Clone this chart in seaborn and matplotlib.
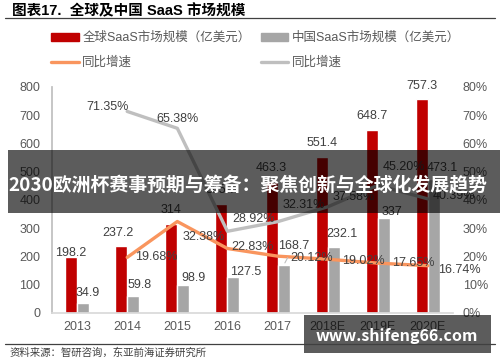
"""Global vs China SaaS market size: bars with growth-rate lines."""

import matplotlib.pyplot as plt
import matplotlib.patches as mpatches
from matplotlib.lines import Line2D
import numpy as np
import pandas as pd
import seaborn as sns

# ---- data ----
years = ['2013', '2014', '2015', '2016', '2017', '2018E', '2019E', '2020E']
global_size = [198.2, 237.2, 314.0, 385.7, 463.3, 551.4, 648.7, 757.3]
china_size = [34.9, 59.8, 98.9, 127.5, 168.7, 232.1, 337.0, 473.1]
# growth rates start in 2014
global_growth = [19.68, 32.38, 22.83, 20.12, 19.02, 17.65, 16.74]
china_growth = [71.35, 65.38, 28.92, 32.31, 37.58, 45.20, 40.39]
left_ticks = [0, 100, 200, 300, 400, 500, 600, 700, 800]
right_ticks = [0, 10, 20, 30, 40, 50, 60, 70, 80]

title = '图表17.  全球及中国 SaaS 市场规模'
legend_labels = ['全球SaaS市场规模（亿美元）', '同比增速',
                 '中国SaaS市场规模（亿美元）', '同比增速']
source = '资料来源：智研咨询，东亚前海证券研究所'
banner = '2030欧洲杯赛事预期与筹备：聚焦创新与全球化发展趋势'
watermark = 'www.shifeng66.com'

# label nudges in points (dx, dy)
global_off = [(0, 3), (-2, 9), (0, 10), (0, 10), (0, 10), (0, 10), (0, 10),
              (0, 9.5)]
china_off = [(3.5, 7), (4.5, 8), (7, 5), (9, 3.5), (7.5, 14), (6, 9.5),
             (6, 4), (6, 8)]
ggrowth_off = [(6, 0), (4, -11), (3, 1), (9, -1), (10, -1), (10, 0), (7, -3)]
cgrowth_off = [(1, 3), (0, 7), (3.5, 8.5), (3.5, 12), (3.5, 7), (3.5, 13),
               (3.5, 2)]
cgrowth_ha = ['right', 'center', 'left', 'left', 'left', 'left', 'left']

RED = '#C00000'
GREY = '#A6A6A6'
ORANGE = '#F9955E'
LGREY = '#BFBFBF'
TXT = '#404040'


def main():
    sns.set_theme(style='white')
    plt.rcParams['font.family'] = ['Liberation Sans', 'Noto Sans CJK SC']

    fig = plt.figure(figsize=(5, 3.62), dpi=100)
    ax = fig.add_axes([0.104, 0.1354, 0.802, 0.6243])

    df = pd.DataFrame({
        'year': years * 2,
        'value': global_size + china_size,
        'series': ['global'] * len(years) + ['china'] * len(years),
    })
    sns.barplot(data=df, x='year', y='value', hue='series',
                palette=[RED, GREY], width=0.48, gap=0, saturation=1,
                legend=False, ax=ax)

    ax.set_xlim(-0.5, len(years) - 0.5)
    ax.set_ylim(left_ticks[0], left_ticks[-1])
    ax.set_yticks(left_ticks)
    ax.set_xlabel('')
    ax.set_ylabel('')
    for s in ['top', 'right']:
        ax.spines[s].set_visible(False)
    ax.spines['left'].set_color(LGREY)
    ax.spines['bottom'].set_color('#D9D9D9')
    ax.tick_params(axis='y', length=0, pad=8.5, labelsize=9,
                   labelcolor='#595959')
    ax.tick_params(axis='x', length=0, pad=6, labelsize=9,
                   labelcolor='#595959')

    # growth lines on the right axis
    ax2 = ax.twinx()
    gx = np.arange(1, len(years))
    sns.lineplot(x=gx, y=china_growth, ax=ax2, color=LGREY, linewidth=2.4)
    sns.lineplot(x=gx, y=global_growth, ax=ax2, color=ORANGE, linewidth=2.4)
    ax2.set_ylim(right_ticks[0], right_ticks[-1])
    ax2.set_yticks(right_ticks)
    ax2.set_yticklabels([f'{t}%' for t in right_ticks])
    for s in ax2.spines.values():
        s.set_visible(False)
    ax2.tick_params(axis='y', length=0, pad=7, labelsize=9,
                    labelcolor='#595959')
    ax2.grid(False)
    ax.grid(False)

    # bar value labels
    for i, v in enumerate(global_size):
        ax2.annotate(f'{v:g}', (i - 0.12, v / 10), xytext=global_off[i],
                     textcoords='offset points', ha='center', va='center',
                     fontsize=9, color=TXT)
    for i, v in enumerate(china_size):
        arrow = dict(arrowstyle='-', color=LGREY, lw=0.8) if i == 4 else None
        ax2.annotate(f'{v:g}', (i + 0.12, v / 10), xytext=china_off[i],
                     textcoords='offset points', ha='center', va='center',
                     fontsize=9, color=TXT, arrowprops=arrow)

    # growth labels
    for k, v in enumerate(global_growth):
        ax2.annotate(f'{v:.2f}%', (gx[k], v), xytext=ggrowth_off[k],
                     textcoords='offset points', ha='left', va='center',
                     fontsize=9, color=TXT)
    for k, v in enumerate(china_growth):
        ax2.annotate(f'{v:.2f}%', (gx[k], v), xytext=cgrowth_off[k],
                     textcoords='offset points', ha=cgrowth_ha[k],
                     va='center', fontsize=9, color=TXT)

    # header / legend / footer
    fig.text(12 / 500, 1 - 11 / 362, title, fontsize=10.5, weight='bold',
             color='black', va='center',
             family=['Liberation Sans', 'Noto Sans CJK SC'])
    fig.add_artist(Line2D([5 / 500, 495 / 500], [1 - 18 / 362] * 2,
                          transform=fig.transFigure, color=TXT, lw=0.9))
    handles = [
        mpatches.Patch(color=RED),
        Line2D([], [], color=ORANGE, lw=2.4),
        mpatches.Patch(color=GREY),
        Line2D([], [], color=LGREY, lw=2.4),
    ]
    fig.legend(handles, legend_labels, ncol=2, loc='upper left',
               bbox_to_anchor=(51 / 500, 1 - 32 / 362), frameon=False,
               fontsize=9, labelcolor='#595959', handlelength=2.2,
               handleheight=0.6, handletextpad=0.3, columnspacing=0.8,
               labelspacing=1.0, borderpad=0, borderaxespad=0)

    fig.add_artist(Line2D([5 / 500, 495 / 500], [1 - 344 / 362] * 2,
                          transform=fig.transFigure, color=TXT, lw=0.9))
    fig.text(10 / 500, 1 - 353 / 362, source, fontsize=7.5, color=TXT,
             va='center', family=['Noto Sans CJK SC'])

    # overlays
    fig.add_artist(mpatches.Rectangle((8 / 500, 1 - 213 / 362), 492 / 500,
                                      63 / 362, transform=fig.transFigure,
                                      color='black', alpha=0.64, lw=0))
    fig.text(248 / 500, 1 - 186 / 362, banner, fontsize=13.6, weight='bold',
             color='white', ha='center', va='center',
             family=['Noto Sans CJK SC'])
    fig.add_artist(mpatches.Rectangle((304 / 500, 1 - 353 / 362), 187 / 500,
                                      38 / 362, transform=fig.transFigure,
                                      color='black', alpha=0.64, lw=0))
    fig.text(397 / 500, 1 - 336 / 362, watermark, fontsize=11.5,
             weight='bold', color='white', ha='center', va='center',
             family=['Noto Sans CJK SC'])

    fig.savefig('out.png', dpi=100)
    return


if __name__ == '__main__':
    main()
